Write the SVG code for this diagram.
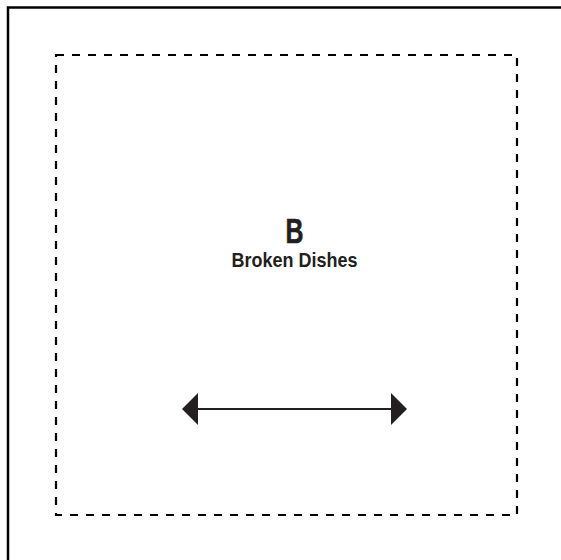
<svg xmlns="http://www.w3.org/2000/svg" width="561" height="560" viewBox="0 0 561 560">
<style>
.lbl{font-family:"Liberation Sans",Arial,sans-serif;font-weight:bold;fill:#231f20;text-anchor:middle}
</style>
<rect x="0" y="0" width="561" height="560" fill="#fff"/>
<path d="M8,570 V7.5 H570" fill="none" stroke="#000" stroke-width="2.5"/>
<g id="node-B">
<rect x="56" y="55" width="461" height="460" fill="none" stroke="#000" stroke-width="2.2" stroke-dasharray="8,8"/>
<text class="lbl" x="294.5" y="242.5" font-size="35" textLength="18" lengthAdjust="spacingAndGlyphs" stroke="#231f20" stroke-width="0.6">B</text>
<text class="lbl" x="294.5" y="267" font-size="21" textLength="126" lengthAdjust="spacingAndGlyphs">Broken Dishes</text>
</g>
<g id="connectors">
<line x1="196" y1="409" x2="393" y2="409" stroke="#231f20" stroke-width="1.8"/>
<polygon points="182,409 198,393 198,425" fill="#231f20"/>
<polygon points="407,409 391,393 391,425" fill="#231f20"/>
</g>
</svg>
